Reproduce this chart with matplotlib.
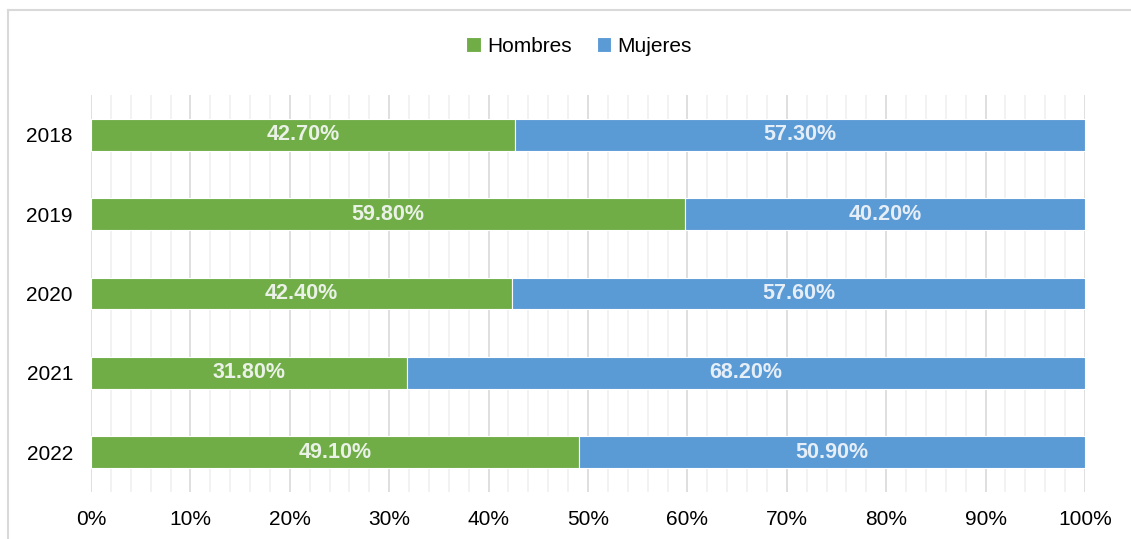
import matplotlib.pyplot as plt
from matplotlib.lines import Line2D
from matplotlib.ticker import MultipleLocator, PercentFormatter

plt.rcParams['font.family'] = ['Liberation Sans', 'DejaVu Sans']

years = ['2018', '2019', '2020', '2021', '2022']
hombres = [42.7, 59.8, 42.4, 31.8, 49.1]
mujeres = [57.3, 40.2, 57.6, 68.2, 50.9]

green = '#70AD47'
blue = '#5B9BD5'

fig = plt.figure(figsize=(11.31, 5.39), dpi=100)
ax = fig.add_axes([91 / 1131, 1 - 492 / 539, (1085 - 91) / 1131, (492 - 95) / 539])

# chart frame (left and top edges visible in the reference)
fig.add_artist(Line2D([8 / 1131, 8 / 1131], [0, 1 - 10 / 539], color='#D9D9D9', lw=1.5))
fig.add_artist(Line2D([8 / 1131, 1], [1 - 10 / 539, 1 - 10 / 539], color='#D9D9D9', lw=1.5))

y = list(range(len(years)))
ax.barh(y, hombres, height=0.4, color=green, edgecolor='white', linewidth=0.8, label='Hombres', zorder=3)
ax.barh(y, mujeres, left=hombres, height=0.4, color=blue, edgecolor='white', linewidth=0.8,
        label='Mujeres', zorder=3)

for i in y:
    ax.text(hombres[i] / 2, i, f'{hombres[i]:.2f}%', ha='center', va='center', color='#EAF1E6',
            fontsize=15.5, fontweight='bold', zorder=4)
    ax.text(hombres[i] + mujeres[i] / 2, i, f'{mujeres[i]:.2f}%', ha='center', va='center',
            color='#E6EEF7', fontsize=15.5, fontweight='bold', zorder=4)

ax.set_xlim(0, 100)
ax.set_ylim(len(years) - 0.5, -0.5)
ax.set_yticks(y)
ax.set_yticklabels(years)
ax.xaxis.set_major_locator(MultipleLocator(10))
ax.xaxis.set_minor_locator(MultipleLocator(2))
ax.xaxis.set_major_formatter(PercentFormatter(decimals=0))
ax.grid(axis='x', which='major', color='#D9D9D9', lw=1.2, zorder=0)
ax.grid(axis='x', which='minor', color='#F0F0F0', lw=1.2, zorder=0)
ax.tick_params(axis='both', which='both', length=0, labelsize=15, colors='#000000')
ax.tick_params(axis='x', pad=13)
ax.tick_params(axis='y', pad=13)
for s in ax.spines.values():
    s.set_visible(False)

fig.legend(loc='center', bbox_to_anchor=(579 / 1131, 1 - 46 / 539), ncol=2, frameon=False,
           fontsize=15, handlelength=0.7, handleheight=0.7, handletextpad=0.3, columnspacing=1.2)

fig.savefig('out.png', dpi=100)
